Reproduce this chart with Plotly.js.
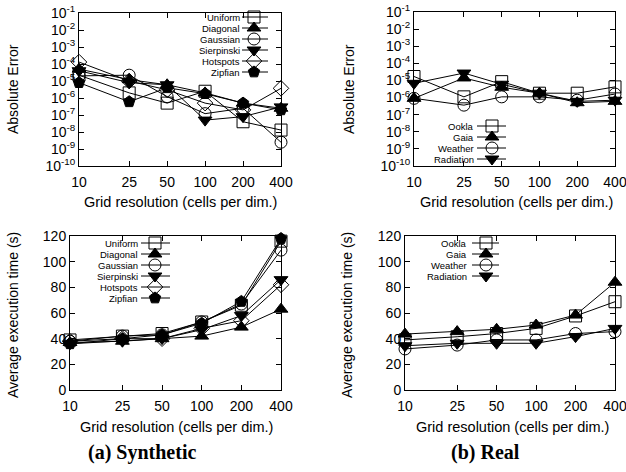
<!DOCTYPE html>
<html><head><meta charset="utf-8">
<script src="https://cdn.plot.ly/plotly-3.0.1.min.js"></script>
<style>html,body{margin:0;padding:0;background:#fff}#chart{width:626px;height:472px}</style>
</head><body><div id="chart"></div>
<script>
// ---------------- data ----------------
const resolutions = [10, 25, 50, 100, 200, 400];
const resolutionLabels = ['10', '25', '50', '100', '200', '400'];

const synthNames = ['Uniform', 'Diagonal', 'Gaussian', 'Sierpinski', 'Hotspots', 'Zipfian'];
const realNames = ['Ookla', 'Gaia', 'Weather', 'Radiation'];

// Absolute error, synthetic datasets
const errUniform    = [2.2e-5, 2e-6, 5e-7, 2.5e-6, 4e-8, 1.3e-8];
const errDiagonal   = [5e-5, 1.2e-5, 6e-6, 2e-6, 5e-7, 2.5e-7];
const errGaussian   = [2e-5, 2.2e-5, 1.2e-6, 1.2e-7, 2.5e-7, 2.5e-9];
const errSierpinski = [4e-5, 8e-6, 6e-6, 5e-8, 8e-8, 3e-7];
const errHotspots   = [1.3e-4, 1e-5, 3e-6, 5e-7, 2e-7, 3.7e-6];
const errZipfian    = [8e-6, 6e-7, 4e-6, 1.8e-6, 5e-7, 2e-7];

// Average execution time (s), synthetic datasets
const timeUniform    = [39, 42, 44, 53, 66, 116];
const timeDiagonal   = [37, 38, 40, 42, 49, 63];
const timeGaussian   = [38, 42, 43, 53, 67, 109];
const timeSierpinski = [36, 38, 40, 47, 58, 86];
const timeHotspots   = [38, 40, 40, 48, 54, 82];
const timeZipfian    = [36, 40, 43, 52, 69, 118];

// Absolute error, real datasets
const errOokla     = [1.7e-5, 1.1e-6, 8.5e-6, 1.8e-6, 1.8e-6, 4.2e-6];
const errGaia      = [9e-7, 1.4e-5, 4e-6, 1.8e-6, 5e-7, 6e-7];
const errWeather   = [9e-7, 3.6e-7, 1.1e-6, 1.1e-6, 7e-7, 1.6e-6];
const errRadiation = [6.8e-6, 2.7e-5, 6e-6, 1.8e-6, 6e-7, 7e-7];

// Average execution time (s), real datasets
const timeOokla     = [39, 41.5, 44, 48, 57.7, 68.8];
const timeGaia      = [43.6, 45.5, 47.3, 50.6, 58.4, 84];
const timeWeather   = [32, 35, 39, 39, 44, 45.5];
const timeRadiation = [34.5, 36.4, 36.4, 36.4, 41.6, 48];

const errExponents = [-1, -2, -3, -4, -5, -6, -7, -8, -9, -10];
const timeTicks = [0, 20, 40, 60, 80, 100, 120];

// ---------------- styling / layout ----------------
const synthErr = [errUniform, errDiagonal, errGaussian, errSierpinski, errHotspots, errZipfian];
const synthTime = [timeUniform, timeDiagonal, timeGaussian, timeSierpinski, timeHotspots, timeZipfian];
const realErr = [errOokla, errGaia, errWeather, errRadiation];
const realTime = [timeOokla, timeGaia, timeWeather, timeRadiation];

const synthSymbols = ['square-open', 'triangle-up', 'circle-open', 'triangle-down', 'diamond-open', 'pentagon'];
const realSymbols = ['square-open', 'triangle-up', 'circle-open', 'triangle-down'];

const W = 626, H = 472;
const SANS = 'Liberation Sans, Arial, sans-serif';
const MSIZE = 12;

function xdom(l, r) { return [l / W, r / W]; }
function ydom(t, b) { return [1 - b / H, 1 - t / H]; }

const traces = [];
function addSeries(names, symbols, values, xa, ya) {
  names.forEach((n, i) => {
    traces.push({
      x: resolutions, y: values[i], name: n, xaxis: xa, yaxis: ya,
      type: 'scatter', mode: 'lines+markers', cliponaxis: false, showlegend: false,
      line: {color: '#000', width: 1},
      marker: {symbol: symbols[i], size: MSIZE, color: '#000', line: {color: '#000', width: 1}}
    });
  });
}
addSeries(synthNames, synthSymbols, synthErr, 'x', 'y');
addSeries(realNames, realSymbols, realErr, 'x2', 'y2');
addSeries(synthNames, synthSymbols, synthTime, 'x3', 'y3');
addSeries(realNames, realSymbols, realTime, 'x4', 'y4');

// key (legend) drawn on a full-page overlay axis in pixel units
const annotations = [];
function addKey(names, symbols, key) {
  names.forEach((n, i) => {
    const yy = key.row0 + i * key.step;
    traces.push({x: [key.x0, key.x1], y: [yy, yy], xaxis: 'x5', yaxis: 'y5', mode: 'lines',
      showlegend: false, hoverinfo: 'skip', line: {color: '#000', width: 1}, cliponaxis: false});
    traces.push({x: [key.xm], y: [yy], xaxis: 'x5', yaxis: 'y5', mode: 'markers',
      showlegend: false, hoverinfo: 'skip', cliponaxis: false,
      marker: {symbol: symbols[i], size: MSIZE, color: '#000', line: {color: '#000', width: 1}}});
    annotations.push({xref: 'x5', yref: 'y5', x: key.xt, y: yy, text: n, showarrow: false,
      xanchor: 'right', yanchor: 'middle', borderpad: 0,
      font: {family: SANS, size: 9.5, color: '#000'}});
  });
}
addKey(synthNames, synthSymbols, {xt: 241, x0: 242, x1: 268, xm: 254, row0: 17, step: 11});
addKey(realNames, realSymbols, {xt: 475, x0: 477, x1: 506, xm: 492, row0: 126, step: 11});
addKey(synthNames, synthSymbols, {xt: 139, x0: 141, x1: 170, xm: 155, row0: 243, step: 11});
addKey(realNames, realSymbols, {xt: 468, x0: 472, x1: 499, xm: 486, row0: 243, step: 11});

const baseAxis = {
  showline: true, mirror: 'ticks', linecolor: '#000', linewidth: 1,
  ticks: 'inside', ticklen: 5, tickcolor: '#000', tickwidth: 1,
  showgrid: false, zeroline: false, fixedrange: true, ticklabeloverflow: 'allow',
  tickfont: {family: SANS, size: 14, color: '#000'}
};
function xAxis(dom, anchor) {
  return Object.assign({}, baseAxis, {
    domain: dom, anchor: anchor, type: 'log',
    range: [Math.log10(resolutions[0]), Math.log10(resolutions[resolutions.length - 1])],
    tickmode: 'array', tickvals: resolutions, ticktext: resolutionLabels, ticklabelstandoff: 3
  });
}
function yErrAxis(dom, anchor) {
  return Object.assign({}, baseAxis, {
    domain: dom, anchor: anchor, type: 'log', range: [-10, -1],
    tickmode: 'array', tickvals: errExponents.map(e => Math.pow(10, e)),
    ticktext: errExponents.map(e => '10<sup>' + e + '</sup>')
  });
}
function yTimeAxis(dom, anchor) {
  return Object.assign({}, baseAxis, {
    domain: dom, anchor: anchor, range: [0, 120],
    tickmode: 'array', tickvals: timeTicks, ticktext: timeTicks.map(String)
  });
}

const A = {x: xdom(79, 281), y: ydom(13, 166)};
const B = {x: xdom(414, 615), y: ydom(12, 166)};
const C = {x: xdom(70, 281), y: ydom(236, 390)};
const D = {x: xdom(405, 615), y: ydom(236, 390)};

function pa(text, px, py, size, angle, family) {
  annotations.push({xref: 'paper', yref: 'paper', x: px / W, y: 1 - py / H, text: text,
    showarrow: false, xanchor: 'center', yanchor: 'middle', textangle: angle || 0,
    font: {family: family || SANS, size: size, color: '#000'}});
}
pa('Absolute Error', 13, 89, 14, -90);
pa('Absolute Error', 349, 89, 14, -90);
pa('Average execution time (s)', 13, 315, 14, -90);
pa('Average execution time (s)', 347, 315, 14, -90);
pa('Grid resolution (cells per dim.)', 180, 202, 14.5);
pa('Grid resolution (cells per dim.)', 516, 202, 14.5);
pa('Grid resolution (cells per dim.)', 176, 427, 14.5);
pa('Grid resolution (cells per dim.)', 512, 427, 14.5);
pa('<b>(a) Synthetic</b>', 142, 452, 20, 0, 'Liberation Serif, serif');
pa('<b>(b) Real</b>', 485, 452, 20, 0, 'Liberation Serif, serif');

const layout = {
  width: W, height: H, margin: {l: 0, r: 0, t: 0, b: 0},
  paper_bgcolor: '#fff', plot_bgcolor: 'rgba(0,0,0,0)', showlegend: false,
  xaxis: xAxis(A.x, 'y'), yaxis: yErrAxis(A.y, 'x'),
  xaxis2: xAxis(B.x, 'y2'), yaxis2: yErrAxis(B.y, 'x2'),
  xaxis3: xAxis(C.x, 'y3'), yaxis3: yTimeAxis(C.y, 'x3'),
  xaxis4: xAxis(D.x, 'y4'), yaxis4: yTimeAxis(D.y, 'x4'),
  xaxis5: {domain: [0, 1], range: [0, W], visible: false, anchor: 'y5', fixedrange: true},
  yaxis5: {domain: [0, 1], range: [H, 0], visible: false, anchor: 'x5', fixedrange: true},
  annotations: annotations
};

Plotly.newPlot('chart', traces, layout, {displayModeBar: false, staticPlot: true});
</script></body></html>
